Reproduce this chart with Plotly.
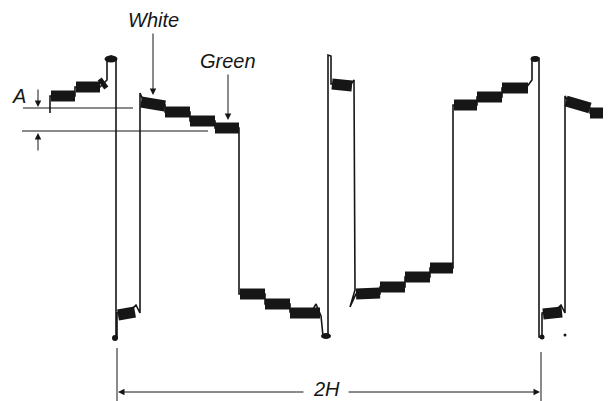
import plotly.graph_objects as go

# Waveform (thin trace) in diagram units (x to the right, y downward)
wave_x = [50, 50, 75, 75, 100, 104, 107, 107, 111, 116, 116, 116, 117, 117, 133, 136, 140, 140, 143, 150, 165, 165, 190, 190, 215, 215, 239,
          239, 265, 265, 290, 290, 312, 316, 321, 323, 328, 328, 331, 331, 351, 354, 355,
          350, 356, 380, 380, 405, 405, 430, 430, 453, 453, 477, 477, 502, 502, 526, 529, 532, 532, 536, 539, 539, 542, 542, 558, 561, 565,
          565, 570, 590, 590, 603]
wave_y = [113, 96, 96, 87, 87, 83, 80, 59, 56, 58, 60, 338, 338, 313, 308, 305, 313, 93, 100, 104, 105, 112, 112, 121, 121, 128, 128,
          294, 294, 304, 304, 312, 311, 304, 316, 336, 336, 55, 56, 84, 84, 80, 290,
          307, 294, 294, 287, 287, 277, 277, 268, 268, 105, 105, 97, 97, 88, 88, 84, 80, 58, 57, 58, 337, 337, 313, 308, 305, 313,
          96, 104, 108, 113, 113]

# Thick plateau segments (start x, end x, start level, end level)
plat_x0 = [51, 76, 101, 118, 141, 165, 190, 215, 240, 265, 290, 332, 356, 380, 405, 430, 454, 477, 502, 543, 566, 590]
plat_x1 = [75, 100, 105, 135, 165, 190, 215, 239, 265, 290, 320, 352, 380, 405, 430, 453, 477, 502, 528, 562, 590, 603]
plat_y0 = [96, 87, 85, 315, 102, 112, 121, 128, 294, 304, 313, 84, 294, 287, 277, 268, 105, 97, 88, 314, 101, 113]
plat_y1 = [96, 87, 82, 312, 106, 112, 121, 128, 294, 304, 313, 86, 293, 287, 277, 268, 105, 97, 88, 312, 108, 113]

# Dots on the waveform
dot_x = [111, 115, 326, 535, 542, 565]
dot_y = [59, 338, 336, 59, 337, 335]
dot_size = [[13, 7], [6, 6], [10, 6], [9, 6], [5, 5], [3, 3]]

W, H = 611, 401
OFF = 8  # page body margin, so one diagram unit is one pixel
ink = "#161616"
fnt = dict(family="Liberation Sans, Arial, sans-serif", size=20, color=ink)

fig = go.Figure()
fig.add_trace(go.Scatter(x=wave_x, y=wave_y, mode="lines",
                         line=dict(color=ink, width=1.6), hoverinfo="skip"))
px, py = [], []
for a, b, c, d in zip(plat_x0, plat_x1, plat_y0, plat_y1):
    px += [a, b, None]
    py += [c, d, None]
fig.add_trace(go.Scatter(x=px, y=py, mode="lines",
                         line=dict(color=ink, width=11), hoverinfo="skip"))
for x, y, (w, h) in zip(dot_x, dot_y, dot_size):
    fig.add_shape(type="circle", x0=x - w / 2, x1=x + w / 2, y0=y - h / 2, y1=y + h / 2,
                  fillcolor=ink, line=dict(width=0))

# reference lines for A
fig.add_shape(type="line", x0=23, x1=133, y0=108, y1=108, line=dict(color=ink, width=1))
fig.add_shape(type="line", x0=22, x1=208, y0=131, y1=131, line=dict(color=ink, width=1))
# 2H tick lines
fig.add_shape(type="line", x0=117, x1=117, y0=348, y1=401, line=dict(color=ink, width=1))
fig.add_shape(type="line", x0=541, x1=541, y0=352, y1=401, line=dict(color=ink, width=1))

def arrow(x, y, ax, ay):
    fig.add_annotation(x=x, y=y, ax=ax, ay=ay, xref="x", yref="y", axref="x", ayref="y",
                       text="", showarrow=True, arrowhead=2, arrowsize=1.3, arrowwidth=1,
                       arrowcolor=ink)

arrow(153, 95, 153, 32)      # White
arrow(228, 120, 228, 73)     # Green
arrow(38, 107, 38, 88)       # A down
arrow(38, 133, 38, 152)      # A up
arrow(118, 392, 305, 392)    # 2H left
arrow(540, 392, 347, 392)    # 2H right

for t, x, y, ya in [("White", 153, 20, "middle"), ("Green", 228, 61, "middle"),
                    ("A", 19, 96, "middle"), ("2H", 326, 401, "bottom")]:
    fig.add_annotation(x=x, y=y, xref="x", yref="y", text="<i>%s</i>" % t, showarrow=False,
                       font=fnt, xanchor="center", yanchor=ya, borderpad=0)

fig.update_xaxes(range=[OFF, W], visible=False, fixedrange=True)
fig.update_yaxes(range=[H, OFF], visible=False, fixedrange=True)
fig.update_layout(width=W - OFF, height=H - OFF, margin=dict(l=0, r=0, t=0, b=0),
                  plot_bgcolor="white", paper_bgcolor="white", showlegend=False)
fig.write_html("out.html")
